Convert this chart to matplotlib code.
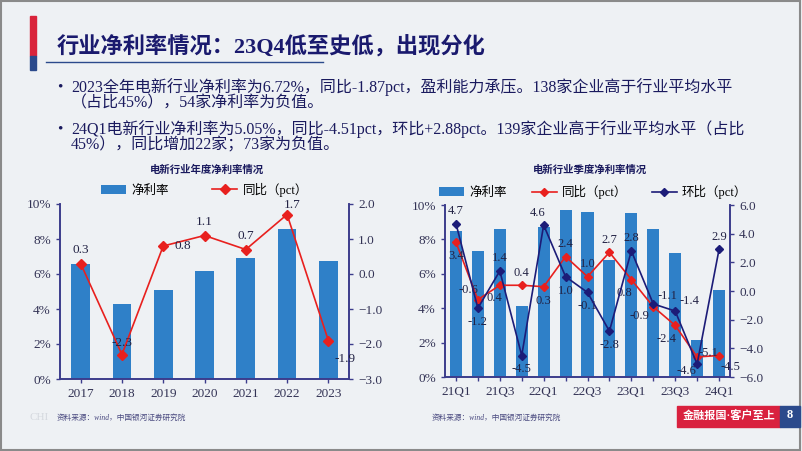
import matplotlib.pyplot as plt
from matplotlib.patches import Rectangle
from matplotlib.ticker import FuncFormatter
import numpy as np

plt.rcParams['font.family'] = ['Liberation Serif', 'Noto Sans CJK SC', 'DejaVu Sans']

# annual data
years = ['2017', '2018', '2019', '2020', '2021', '2022', '2023']
year_margin = [6.6, 4.3, 5.1, 6.2, 6.9, 8.6, 6.72]
year_yoy = [0.3, -2.3, 0.8, 1.1, 0.7, 1.7, -1.9]

# quarterly data
quarters = ['21Q1', '21Q2', '21Q3', '21Q4', '22Q1', '22Q2', '22Q3', '22Q4',
            '23Q1', '23Q2', '23Q3', '23Q4', '24Q1']
q_margin = [8.5, 7.3, 8.6, 4.1, 8.7, 9.7, 9.6, 6.8, 9.55, 8.6, 7.2, 2.17, 5.05]
q_yoy = [3.4, -0.6, 0.4, 0.4, 0.3, 2.4, 1.0, 2.7, 0.8, -1.1, -2.4, -4.6, -4.5]
q_qoq = [4.7, -1.2, 1.4, -4.5, 4.6, 1.0, -0.1, -2.8, 2.8, -0.9, -1.4, -5.1, 2.9]

BG = '#eef1f4'
BAR = '#2f80c8'
RED = '#e8201e'
NAVY = '#1c1c78'
AX = '#3c3c8c'
TXT = '#1a1a5e'

fig = plt.figure(figsize=(8.02, 4.51), dpi=100, facecolor=BG)


def fx(px):
    return px / 802


def fy(py):
    return 1 - py / 451


# slide border and title block
fig.patches.append(Rectangle((0.001, 0.002), 0.997, 0.995, transform=fig.transFigure,
                             fill=False, ec='#8a8a8a', lw=1.5))
fig.patches.append(Rectangle((fx(30), fy(56)), fx(6), 40/451, transform=fig.transFigure,
                             color='#d9243b'))
fig.patches.append(Rectangle((fx(30), fy(70)), fx(6), 14/451, transform=fig.transFigure,
                             color='#2b4a8c'))
fig.lines.append(plt.Line2D([fx(46), fx(323)], [fy(62), fy(62)], transform=fig.transFigure,
                            color='#2b4a8c', lw=1))
fig.text(fx(57), fy(46), '行业净利率情况：23Q4低至史低，出现分化', fontsize=16,
         color='#1a1a6e', fontweight='bold', va='center')

bullets = [
    ('2023全年电新行业净利率为6.72%，同比-1.87pct，盈利能力承压。138家企业高于行业平均水平', 87, True),
    ('（占比45%），54家净利率为负值。', 103, False),
    ('24Q1电新行业净利率为5.05%，同比-4.51pct，环比+2.88pct。139家企业高于行业平均水平（占比', 129, True),
    ('45%），同比增加22家；73家为负值。', 145, False),
]
for t, y, dot in bullets:
    fig.text(fx(71), fy(y), t, fontsize=11.5, color=TXT, va='center')
    if dot:
        fig.text(fx(57), fy(y), '•', fontsize=11, color=TXT, va='center')


def style_axes(ax, ax2):
    for a in (ax, ax2):
        a.set_facecolor('none')
        a.spines['top'].set_visible(False)
        for s in ('left', 'right', 'bottom'):
            a.spines[s].set_color(AX)
            a.spines[s].set_linewidth(1.2)
        a.tick_params(colors=AX, labelsize=9.5, length=3, width=1, direction='out')
        for lab in a.get_yticklabels() + a.get_xticklabels():
            lab.set_color('#333355')


# ---- left chart ----
ax = fig.add_axes([fx(60), fy(379), fx(289), 175/451])
ax2 = ax.twinx()
x = np.arange(len(years))
ax.bar(x, year_margin, width=0.45, color=BAR, label='净利率')
ax.set_ylim(0, 10)
ax.set_yticks(np.arange(0, 11, 2))
ax.yaxis.set_major_formatter(FuncFormatter(lambda v, p: f'{v:.0f}%'))
ax.set_xlim(-0.5, len(years) - 0.5)
ax.set_xticks(x)
ax.set_xticklabels(years)
ax2.plot(x, year_yoy, color=RED, marker='D', ms=5, lw=1.2, label='同比（pct）')
ax2.set_ylim(-3, 2)
ax2.set_yticks(np.arange(-3, 2.1, 1))
ax2.yaxis.set_major_formatter(FuncFormatter(lambda v, p: f'{v:.1f}'.replace('-', '−')))
style_axes(ax, ax2)
year_off = [(0, 10), (0, 8), (14, 0), (0, 10), (0, 10), (4, 7), (12, -13)]
for xi, v, (dx, dy) in zip(x, year_yoy, year_off):
    ax2.annotate(f'{v:.1f}', (xi, v), xytext=(dx, dy), textcoords='offset points',
                 ha='center', va='center', fontsize=9.5, color='#222244')
h1, l1 = ax.get_legend_handles_labels()
h2, l2 = ax2.get_legend_handles_labels()
ax.legend(h1 + h2, l1 + l2, loc='lower center', bbox_to_anchor=(0.5, 1.0), ncol=2,
          frameon=False, fontsize=9, handlelength=2, handletextpad=0.4,
          columnspacing=3.5, borderaxespad=0.2)
fig.text(fx(207), fy(170), '电新行业年度净利率情况', fontsize=7.5, fontweight='bold',
         color=TXT, ha='center', va='center')

# ---- right chart ----
bx = fig.add_axes([fx(445), fy(377), fx(285), 172/451])
bx2 = bx.twinx()
q = np.arange(len(quarters))
bx.bar(q, q_margin, width=0.55, color=BAR, label='净利率')
bx.set_ylim(0, 10)
bx.set_yticks(np.arange(0, 11, 2))
bx.yaxis.set_major_formatter(FuncFormatter(lambda v, p: f'{v:.0f}%'))
bx.set_xlim(-0.5, len(quarters) - 0.5)
bx.set_xticks(q)
bx.set_xticklabels([lab if i % 2 == 0 else '' for i, lab in enumerate(quarters)])
bx2.plot(q, q_yoy, color=RED, marker='D', ms=4.5, lw=1.2, label='同比（pct）', zorder=3)
bx2.plot(q, q_qoq, color=NAVY, marker='D', ms=4, lw=1.2, label='环比（pct）', zorder=4)
bx2.set_ylim(-6, 6)
bx2.set_yticks(np.arange(-6, 6.1, 2))
bx2.yaxis.set_major_formatter(FuncFormatter(lambda v, p: f'{v:.1f}'.replace('-', '−')))
style_axes(bx, bx2)
yoy_off = [(0, -10), (-7, 7), (-4, -9), (0, 9), (0, -10), (0, 9), (0, 9), (0, 9),
           (-5, -10), (10, 8), (-6, -10), (-8, -10), (8, -8)]
qoq_off = [(0, 9), (0, -10), (0, 9), (0, -10), (-4, 9), (0, -10), (0, -10), (0, -10),
           (0, 9), (-10, -9), (10, 7), (8, 8), (0, 9)]
for qi, v, (dx, dy) in zip(q, q_yoy, yoy_off):
    bx2.annotate(f'{v:.1f}', (qi, v), xytext=(dx, dy), textcoords='offset points',
                 ha='center', va='center', fontsize=9, color='#222244')
for qi, v, (dx, dy) in zip(q, q_qoq, qoq_off):
    bx2.annotate(f'{v:.1f}', (qi, v), xytext=(dx, dy), textcoords='offset points',
                 ha='center', va='center', fontsize=9, color='#222244')
h1, l1 = bx.get_legend_handles_labels()
h2, l2 = bx2.get_legend_handles_labels()
bx.legend(h1 + h2, l1 + l2, loc='lower center', bbox_to_anchor=(0.52, 0.99), ncol=3,
          frameon=False, fontsize=9, handlelength=2, handletextpad=0.4,
          columnspacing=2, borderaxespad=0.2)
fig.text(fx(590), fy(170), '电新行业季度净利率情况', fontsize=7.5, fontweight='bold',
         color=TXT, ha='center', va='center')

# ---- footer ----
fig.text(fx(30), fy(418), 'CHI', fontsize=8, color='#d4d8de', va='center')
fig.text(fx(57), fy(418), '资料来源：wind，中国银河证券研究院', fontsize=5.5,
         color='#4a4a80', style='italic', va='center')
fig.text(fx(432), fy(418), '资料来源：wind，中国银河证券研究院', fontsize=5.5,
         color='#4a4a80', style='italic', va='center')
fig.patches.append(Rectangle((fx(677), fy(427)), fx(103), 21/451, transform=fig.transFigure,
                             color='#d9213e'))
fig.patches.append(Rectangle((fx(780), fy(427)), fx(20), 21/451, transform=fig.transFigure,
                             color='#2b4a8c'))
fig.text(fx(729), fy(416.5), '金融报国·客户至上', fontsize=8, color='white',
         fontweight='bold', ha='center', va='center')
fig.text(fx(790), fy(415), '8', fontsize=9, color='white', fontweight='bold',
         ha='center', va='center')

fig.savefig('out.png', dpi=100, facecolor=BG)
